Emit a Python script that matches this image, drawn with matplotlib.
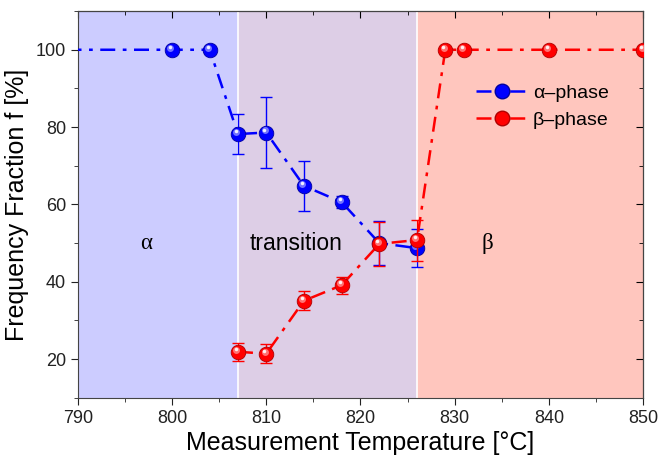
import numpy as np
import matplotlib.pyplot as plt
import matplotlib.transforms as mtransforms
from matplotlib.ticker import MultipleLocator
from matplotlib.lines import Line2D
from matplotlib.legend_handler import HandlerTuple

plt.rcParams['font.family'] = ['Liberation Sans', 'DejaVu Sans']

# alpha-phase
alpha_T = [780, 800, 804, 807, 810, 814, 818, 822, 826]
alpha_f = [100, 100, 100, 78.2, 78.6, 64.8, 60.6, 50.0, 48.7]
alpha_err = [0, 0, 0, 5.2, 9.3, 6.4, 1.6, 5.6, 5.0]

# beta-phase
beta_T = [807, 810, 814, 818, 822, 826, 829, 831, 840, 850, 860]
beta_f = [21.9, 21.4, 35.1, 39.1, 49.8, 50.8, 100, 100, 100, 100, 100]
beta_err = [2.3, 2.4, 2.4, 2.2, 5.7, 5.3, 0, 0, 0, 0, 0]

# phase regions: start, end, colour, label, label x
regions = [(790, 807, '#ccccff', 'α', 797.3), (807, 826, '#ddcee6', 'transition', 813.2),
           (826, 850, '#ffc6be', 'β', 833.5)]

fig = plt.figure(figsize=(6.59, 4.62), dpi=100)
ax = fig.add_axes([0.118, 0.139, 0.858, 0.837])

for x0, x1, col, lab, xt in regions:
    ax.axvspan(x0, x1, color=col, lw=0, zorder=0)
    fam = ['Liberation Sans'] if lab == 'transition' else ['Liberation Serif']
    ax.text(xt, 50, lab, fontsize=16.5, ha='center', va='center', zorder=1, family=fam)
ax.axvline(807, color='white', lw=1.2, zorder=0.5)
ax.axvline(826, color='white', lw=1.2, zorder=0.5)

dash = (6, 3, 1.5, 3)


def balls(x, y, err, col, dark, z):
    ax.plot(x, y, color=col, lw=1.8, dashes=dash, zorder=z)
    ax.errorbar(x, y, yerr=err, fmt='none', ecolor=col, elinewidth=1, capsize=4,
                capthick=1, zorder=z)
    ax.plot(x, y, 'o', ms=10.5, mfc=col, mec=dark, mew=0.6, zorder=z + 0.1)
    tr = mtransforms.offset_copy(ax.transData, fig=fig, x=-1.2, y=1.5, units='points')
    ax.plot(x, y, 'o', ms=5, mfc='white', mec='none', alpha=0.45,
            transform=tr, zorder=z + 0.2)
    tr2 = mtransforms.offset_copy(ax.transData, fig=fig, x=-1.5, y=2.0, units='points')
    ax.plot(x, y, 'o', ms=2.5, mfc='white', mec='none', alpha=0.9,
            transform=tr2, zorder=z + 0.3)


balls(alpha_T, alpha_f, alpha_err, '#0000ff', '#0000a0', 3)
balls(beta_T, beta_f, beta_err, '#ff0000', '#b00000', 4)

ha = (Line2D([], [], color='#0000ff', lw=1.8, dashes=dash),
      Line2D([], [], marker='o', ms=10.5, color='#0000ff', mec='#0000a0', lw=0))
hb = (Line2D([], [], color='#ff0000', lw=1.8, dashes=dash),
      Line2D([], [], marker='o', ms=10.5, color='#ff0000', mec='#b00000', lw=0))
ax.legend([ha, hb], ['α–phase', 'β–phase'], handler_map={tuple: HandlerTuple(ndivide=1)},
          loc='upper right', bbox_to_anchor=(0.97, 0.855), frameon=False, fontsize=14,
          handlelength=2.6, handletextpad=0.3, labelspacing=0.45)

ax.set_xlim(790, 850)
ax.set_ylim(10, 110)
ax.xaxis.set_major_locator(MultipleLocator(10))
ax.xaxis.set_minor_locator(MultipleLocator(5))
ax.set_yticks([20, 40, 60, 80, 100])
ax.yaxis.set_minor_locator(MultipleLocator(10))
ax.tick_params(which='both', direction='out', labelsize=13, colors='#222222',
               top=False, right=False)
ax.tick_params(which='major', length=5)
ax.tick_params(which='minor', length=3)
for s in ax.spines.values():
    s.set_color('#444444')

ax.set_xlabel('Measurement Temperature [°C]', fontsize=18, labelpad=3)
ax.set_ylabel('Frequency Fraction f [%]', fontsize=18, labelpad=5)

# inward ticks for top and right
ax2 = ax.secondary_xaxis('top')
ax2.xaxis.set_minor_locator(MultipleLocator(5))
ax2.tick_params(which='both', direction='in', labeltop=False)
ax2.tick_params(which='major', length=5)
ax2.tick_params(which='minor', length=3)
ax3 = ax.secondary_yaxis('right')
ax3.set_yticks([20, 40, 60, 80, 100])
ax3.yaxis.set_minor_locator(MultipleLocator(10))
ax3.tick_params(which='both', direction='in', labelright=False)
ax3.tick_params(which='major', length=5)
ax3.tick_params(which='minor', length=3)

fig.savefig('out.png', dpi=100)
